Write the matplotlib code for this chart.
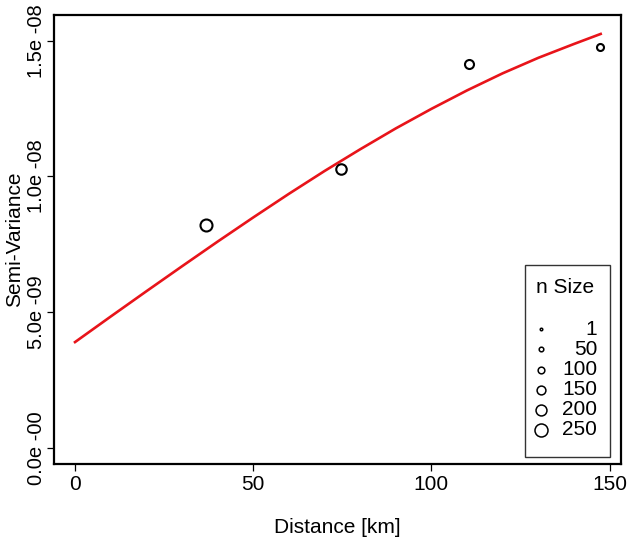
import matplotlib
matplotlib.use("Agg")
import matplotlib.pyplot as plt
from matplotlib.patches import Rectangle

plt.rcParams['font.family'] = ['Liberation Sans', 'DejaVu Sans']

# empirical semivariogram (distance in km, semivariance, number of pairs)
dist = [36.7, 74.6, 110.5, 147.2]
semivar = [8.21e-9, 10.27e-9, 14.15e-9, 14.78e-9]
npairs = [226, 190, 155, 107]

# fitted model curve, every 10 km
model_x = [0, 10, 20, 30, 40, 50, 60, 70, 80, 90, 100, 110, 120, 130, 140, 147.5]
model_y = [3.90e-9, 4.84e-9, 5.77e-9, 6.69e-9, 7.60e-9, 8.49e-9, 9.36e-9,
           10.20e-9, 11.00e-9, 11.77e-9, 12.49e-9, 13.17e-9, 13.80e-9,
           14.37e-9, 14.88e-9, 15.25e-9]

legend_n = [1, 50, 100, 150, 200, 250]
yticks = [0, 5e-9, 1e-8, 1.5e-8]
ytick_labels = ["0.0e -00", "5.0e -09", "1.0e -08", "1.5e -08"]
xticks = [0, 50, 100, 150]


def msize(n):
    # marker diameter in points, roughly linear in n
    return (2.5 + 0.042 * n) * 0.72


fig = plt.figure(figsize=(6.3, 5.43), dpi=100)
ax = fig.add_axes([0.0857, 0.1455, 0.9, 0.827])

ax.plot(model_x, model_y, color='#e8141a', lw=1.9, zorder=2)
for x, y, n in zip(dist, semivar, npairs):
    ax.plot(x, y, 'o', mfc='none', mec='black', mew=1.5, ms=msize(n), zorder=3)

ax.set_xlim(-5.9, 153.2)
ax.set_ylim(-0.59e-9, 15.95e-9)
ax.set_xticks(xticks)
ax.set_xticklabels([str(v) for v in xticks])
ax.set_yticks(yticks)
ax.set_yticklabels(ytick_labels, rotation=90, va='center')
ax.tick_params(direction='out', length=5, width=0.9, labelsize=15, pad=3)
ax.tick_params(axis='y', labelsize=14.5, pad=1)

for s in ax.spines.values():
    s.set_linewidth(1.6)

ax.set_xlabel("Distance [km]", fontsize=15, labelpad=17)
ax.set_ylabel("Semi-Variance", fontsize=15, va='center')
ax.yaxis.set_label_coords(-0.069, 0.5)

# legend drawn by hand, like the R version
tr = ax.transAxes
ax.add_patch(Rectangle((0.8307, 0.0156), 0.1499, 0.4276, transform=tr,
                       fill=False, ec='#333333', lw=1.0, zorder=4))
ax.text(0.9013, 0.393, "n Size", transform=tr, ha='center', va='center', fontsize=15)
for i, n in enumerate(legend_n):
    yy = 0.300 - i * 0.0448
    ax.plot(0.859, yy, 'o', transform=tr, mfc='none', mec='black',
            mew=1.1, ms=msize(n), clip_on=False, zorder=5)
    ax.text(0.958, yy, str(n), transform=tr, ha='right', va='center', fontsize=15)

fig.savefig("out.png", dpi=100)
